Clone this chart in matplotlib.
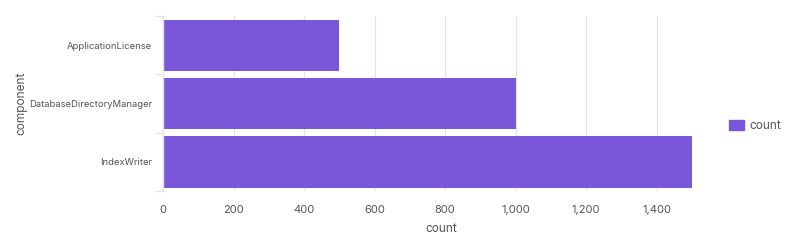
import matplotlib
matplotlib.use("Agg")
import matplotlib.pyplot as plt
from matplotlib.patches import Patch

components = ["ApplicationLicense", "DatabaseDirectoryManager", "IndexWriter"]
counts = [500, 1000, 1500]
xticks = [0, 200, 400, 600, 800, 1000, 1200, 1400]
xticklabels = ["0", "200", "400", "600", "800", "1,000", "1,200", "1,400"]

bar_color = "#7A57D8"
text_color = "#555555"
grid_color = "#E3E3E3"

plt.rcParams['font.family'] = ['Inter', 'DejaVu Sans']

fig = plt.figure(figsize=(8, 2.5), dpi=100)
W, H = 800, 250
ax = fig.add_axes([163 / W, 1 - 191 / H, (692 - 163) / W, (191 - 16) / H])

ypos = list(range(len(components)))
ax.barh(ypos, counts, height=0.88, color=bar_color, zorder=2)
ax.set_ylim(len(components) - 0.5, -0.5)
ax.set_xlim(0, 1500)

ax.set_yticks(ypos)
ax.set_yticklabels(components, fontsize=6.8, color=text_color)
ax.set_yticks([i - 0.5 for i in range(len(components) + 1)], minor=True)
ax.tick_params(axis='y', which='major', length=0, pad=8)
ax.tick_params(axis='y', which='minor', length=6, color=grid_color, width=1)

ax.set_xticks(xticks)
ax.set_xticklabels(xticklabels, fontsize=8, color=text_color)
ax.tick_params(axis='x', length=0, pad=10)
ax.grid(axis='x', color=grid_color, linewidth=0.8, zorder=0)

for s in ['top', 'right', 'bottom']:
    ax.spines[s].set_visible(False)
ax.spines['left'].set_color(grid_color)
ax.spines['left'].set_linewidth(1)

ax.set_xlabel("count", fontsize=8.5, color=text_color)
ax.xaxis.set_label_coords((441 - 163) / (692 - 163), -0.215)
ax.xaxis.label.set_verticalalignment('center')
ax.set_ylabel("component", fontsize=8.5, color=text_color)
ax.yaxis.set_label_coords(-(163 - 27) / (692 - 163), 0.5)

fig.legend(handles=[Patch(color=bar_color, label="count")],
           loc='center left', bbox_to_anchor=(718 / W, 1 - 126 / H),
           frameon=False, fontsize=8.5, labelcolor=text_color,
           handlelength=1.3, handleheight=0.9, handletextpad=0.5)

fig.savefig("out.png", dpi=100)
